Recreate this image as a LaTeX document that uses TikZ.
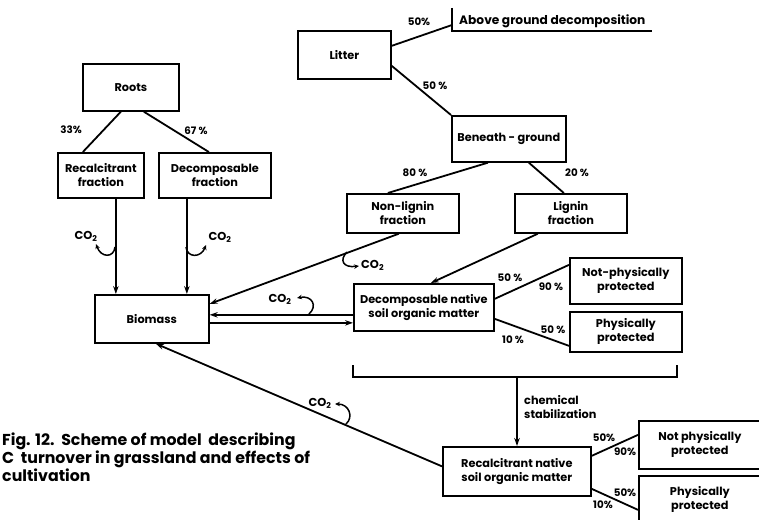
\documentclass[tikz,border=0pt]{standalone}
\usepackage{fontspec}
\setmainfont{Poppins}
\usetikzlibrary{arrows.meta}
\newcommand{\cotwo}{CO\textsubscript{2}}
\begin{document}
\begin{tikzpicture}[x=1pt,y=-1pt,
  box/.style={draw, line width=1.7pt, anchor=north west, align=center, inner sep=0pt, font=\bfseries\fontsize{11.3}{14}\selectfont},
  conn/.style={line width=1.8pt},
  arr/.style={conn, -{Stealth[length=8pt,width=5.5pt]}},
  curl/.style={line width=1.5pt, -{Stealth[length=5pt,width=4.5pt]}},
  pct/.style={font=\bfseries\fontsize{10.3}{12}\selectfont, inner sep=0pt},
  lbl/.style={font=\bfseries\fontsize{11.5}{13}\selectfont, inner sep=0pt},
  captxt/.style={font=\bfseries\fontsize{15.8}{18}\selectfont, inner sep=0pt, align=left, anchor=north west},
]
\useasboundingbox (0,0) rectangle (759,519);
\clip (0,0) rectangle (759,519);

% boxes
\node[box, minimum width=93pt, minimum height=48pt] (litter) at (297,30) {Litter};
\node[box, minimum width=96pt, minimum height=47pt] (roots) at (82,63) {Roots};
\node[box, minimum width=86pt, minimum height=45pt] (recfr) at (57,152) {Recalcitrant\\fraction};
\node[box, minimum width=112pt, minimum height=45pt] (decfr) at (158,152) {Decomposable\\fraction};
\node[box, minimum width=114pt, minimum height=46pt] (beneath) at (451,115) {Beneath - ground};
\node[box, minimum width=112pt, minimum height=39pt] (nonlig) at (346,193) {Non-lignin\\fraction};
\node[box, minimum width=112pt, minimum height=39pt] (lignin) at (514,193) {Lignin\\fraction};
\node[box, minimum width=114pt, minimum height=48pt] (biomass) at (94,294) {Biomass};
\node[box, minimum width=140pt, minimum height=47pt] (decnat) at (353,283) {Decomposable native\\soil organic matter};
\node[box, minimum width=112pt, minimum height=46pt] (np1) at (569,257) {Not-physically\\protected};
\node[box, minimum width=112pt, minimum height=40pt] (pp1) at (569,311) {Physically\\protected};
\node[box, minimum width=148pt, minimum height=49pt] (recnat) at (442,446) {Recalcitrant native\\soil organic matter};
\node[box, minimum width=122pt, minimum height=48pt] (np2) at (638,420) {Not physically\\protected};
\node[box, minimum width=122pt, minimum height=48pt] (pp2) at (638,475) {Physically\\protected};

% above ground decomposition
\coordinate (abvtop) at (452,8);
\coordinate (abv) at (452,25);
\coordinate (abvbot) at (452,31);
\coordinate (abvend) at (652,31);
\draw[conn] (abvtop) -- (abvbot) -- (abvend);
\node[lbl, anchor=west, font=\bfseries\fontsize{12.2}{14}\selectfont] (abvtxt) at (459,21) {Above ground decomposition};

% litter
\draw[conn] ([yshift=9pt]litter.east) -- (abv);
\node[pct] (p1) at (419,22) {50\%};
\draw[conn] ([yshift=-11pt]litter.east) -- (beneath.north west);
\node[pct] (p2) at (435,86) {50 \%};

% roots
\draw[conn] ([xshift=-10pt]roots.south) -- ([xshift=-18pt]recfr.north);
\node[pct] (p3) at (71,130) {33\%};
\draw[conn] ([xshift=13pt]roots.south) -- ([xshift=-6pt]decfr.north);
\node[pct] (p4) at (196,131) {67 \%};

\coordinate (ra) at ([xshift=15pt]recfr.south);
\coordinate (da) at ([xshift=-28pt]decfr.south);
\draw[arr] (ra) -- (ra |- biomass.north);
\draw[arr] (da) -- (da |- biomass.north);
\coordinate (c1s) at (115,247);
\coordinate (c1e) at (96,244);
\draw[curl] (c1s) .. controls (114,258) and (101,258) .. (c1e);
\node[lbl] (co1) at (86,236) {\cotwo};
\coordinate (c2s) at (186,247);
\coordinate (c2e) at (206,245);
\draw[curl] (c2s) .. controls (187,258) and (201,258) .. (c2e);
\node[lbl] (co2) at (220,237) {\cotwo};

% beneath
\draw[conn] ([xshift=-21pt]beneath.south) -- ([xshift=-15pt]nonlig.north);
\node[pct] (p5) at (415,173) {80 \%};
\draw[conn] ([xshift=20pt]beneath.south) -- ([xshift=-7pt]lignin.north);
\node[pct] (p6) at (577,173) {20 \%};

% nonlignin -> biomass
\draw[arr] ([xshift=-4pt]nonlig.south) -- ([yshift=15pt]biomass.east);
\coordinate (c3s) at (347,252);
\coordinate (c3e) at (359,266);
\draw[curl] (c3s) .. controls (339,260) and (343,268) .. (c3e);
\node[lbl, anchor=west] (co3) at (361,265) {\cotwo};

% lignin -> decnat
\draw[arr] ([xshift=-33pt]lignin.south) -- ([xshift=7pt]decnat.north);

% biomass <-> decnat
\coordinate (bu) at ([yshift=4pt]biomass.east);
\coordinate (bl) at ([yshift=-4pt]biomass.east);
\draw[arr] (bu -| decnat.west) -- (bu);
\draw[arr] (bl) -- (bl -| decnat.west);
\coordinate (c4s) at (309,314);
\coordinate (c4e) at (297,298);
\draw[curl] (c4s) .. controls (318,306) and (312,295) .. (c4e);
\node[lbl] (co4) at (280,299) {\cotwo};

% decnat -> protected
\draw[conn] ([yshift=8.5pt]decnat.east) -- ([yshift=16pt]np1.west);
\node[pct] (p7) at (510,278) {50 \%};
\node[pct] (p8) at (551,287) {90 \%};
\draw[conn] ([yshift=-11.5pt]decnat.east) -- ([yshift=-14pt]pp1.west);
\node[pct] (p9) at (553,330) {50 \%};
\node[pct] (p10) at (513,340) {10 \%};

% bracket
\coordinate (bk1) at (353,365);
\coordinate (bk2) at (353,377);
\coordinate (bk3) at (677,377);
\coordinate (bk4) at (677,365);
\draw[conn] (bk1) -- (bk2) -- (bk3) -- (bk4);
\coordinate (brk) at (517,377);
\draw[arr] (brk) -- (brk |- recnat.north);
\node[lbl, anchor=north west, align=left, font=\bfseries\fontsize{11.3}{14}\selectfont] (chem) at (524,395) {chemical\\stabilization};

% recnat
\draw[arr] ([yshift=5pt]recnat.west) -- ([xshift=4pt]biomass.south);
\coordinate (c5s) at (346,424);
\coordinate (c5e) at (335,404);
\draw[curl] (c5s) .. controls (354,417) and (349,404) .. (c5e);
\node[lbl] (co5) at (320,403) {\cotwo};

\draw[conn] ([yshift=15.5pt]recnat.east) -- ([yshift=10pt]np2.west);
\node[pct] (p11) at (604,438) {50\%};
\node[pct] (p12) at (625,452) {90\%};
\draw[conn] ([yshift=-17.5pt]recnat.east) -- ([yshift=-10pt]pp2.west);
\node[pct] (p13) at (625,493) {50\%};
\node[pct] (p14) at (603,505) {10\%};

% caption
\node[captxt] (caption) at (2,433) {Fig. 12.\ \ Scheme of model\ \ describing\\C\ \ turnover in grassland and effects of\\cultivation};
\end{tikzpicture}
\end{document}
